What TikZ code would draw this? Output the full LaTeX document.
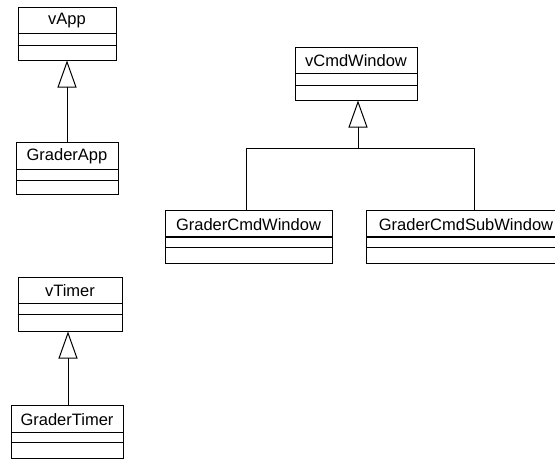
\documentclass[tikz,border=0pt]{standalone}
\usepackage{fontspec}
\setmainfont{Liberation Sans}
\usetikzlibrary{arrows.meta,fit}
\tikzset{
  x=1pt, y=-1pt,
  clsbox/.style={draw, line width=1pt, inner sep=0pt},
  clsname/.style={font=\fontsize{16.5}{18}\selectfont, inner sep=0pt},
  divider/.style={line width=1pt},
  thickdiv/.style={line width=1.8pt},
  gen/.style={line width=1pt, -{Triangle[open, length=27pt, width=19pt, line width=1pt]}},
  link/.style={line width=1pt}
}
% #1 name, #2 x1, #3 y1, #4 x2, #5 y2, #6 d1, #7 d2, #8 text, #9 divider style
\newcommand\umlcls[9]{%
  \node[clsbox, fit={(#2,#3) (#4,#5)}] (#1) {};
  \draw[#9] (#2,#6) -- (#4,#6);
  \draw[divider] (#2,#7) -- (#4,#7);
  \node[clsname] (#1-t) at ({(#2+#4)/2},{(#3+#6)/2+1}) {#8};
}
\begin{document}
\begin{tikzpicture}
\useasboundingbox (0,0) rectangle (555,459);
\clip (0,0) rectangle (555,459);
\fill[white] (0,0) rectangle (555,459);

\umlcls{vapp}{18}{7}{116}{60}{33}{45}{vApp}{divider}
\umlcls{gapp}{16}{142}{118}{194}{169}{180}{GraderApp}{divider}
\umlcls{vcw}{295}{47}{417}{100}{73}{85}{vCmdWindow}{divider}
\umlcls{gcw}{165}{210}{332}{263}{237}{247}{GraderCmdWindow}{thickdiv}
\umlcls{gcsw}{366}{210}{566}{263}{237}{247}{GraderCmdSubWindow}{thickdiv}
\umlcls{vtimer}{18}{277}{122}{331}{303}{314}{vTimer}{divider}
\umlcls{gtimer}{11}{405}{123}{458}{432}{442}{GraderTimer}{divider}

% generalizations
\draw[gen] (gapp.north -| vapp.south) -- (vapp.south);
\draw[gen] (gtimer.north -| 68,0) -- (vtimer.south -| 68,0);

\coordinate (j) at (358,148);
\draw[link] ([xshift=-2.5pt]gcw.north) |- (j);
\draw[link] ([xshift=8pt]gcsw.north) |- (j);
\draw[gen] (j) -- (vcw.south -| j);
\end{tikzpicture}
\end{document}
